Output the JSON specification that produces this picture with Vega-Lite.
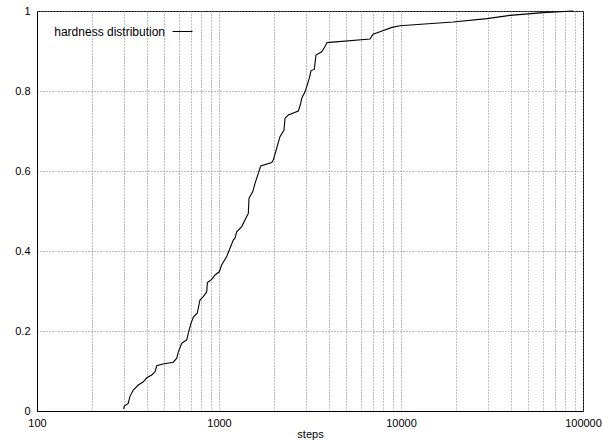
{
  "$schema": "https://vega.github.io/schema/vega-lite/v6.json",
  "width": 546,
  "height": 400,
  "autosize": {"type": "none"},
  "padding": {"left": 37, "top": 11, "right": 19, "bottom": 30},
  "config": {
    "font": "Liberation Sans",
    "view": {"stroke": "black", "strokeWidth": 1},
    "axis": {
      "labelFont": "Liberation Sans",
      "titleFont": "Liberation Sans",
      "labelFontSize": 11,
      "titleFontSize": 11,
      "titleFontWeight": "normal",
      "labelColor": "black",
      "titleColor": "black",
      "domainColor": "black",
      "tickColor": "black",
      "gridColor": "#808080",
      "gridDash": [1, 2],
      "gridOpacity": 1,
      "gridWidth": 1
    }
  },
  "data": {
    "values": [
      {"steps": 299, "p": 0.005, "series": "hardness distribution"},
      {"steps": 302, "p": 0.0125, "series": "hardness distribution"},
      {"steps": 317, "p": 0.019, "series": "hardness distribution"},
      {"steps": 324, "p": 0.036, "series": "hardness distribution"},
      {"steps": 338, "p": 0.0525, "series": "hardness distribution"},
      {"steps": 360, "p": 0.065, "series": "hardness distribution"},
      {"steps": 384, "p": 0.073, "series": "hardness distribution"},
      {"steps": 401, "p": 0.083, "series": "hardness distribution"},
      {"steps": 427, "p": 0.09, "series": "hardness distribution"},
      {"steps": 445, "p": 0.098, "series": "hardness distribution"},
      {"steps": 455, "p": 0.113, "series": "hardness distribution"},
      {"steps": 484, "p": 0.117, "series": "hardness distribution"},
      {"steps": 561, "p": 0.122, "series": "hardness distribution"},
      {"steps": 586, "p": 0.132, "series": "hardness distribution"},
      {"steps": 598, "p": 0.148, "series": "hardness distribution"},
      {"steps": 624, "p": 0.169, "series": "hardness distribution"},
      {"steps": 665, "p": 0.178, "series": "hardness distribution"},
      {"steps": 678, "p": 0.194, "series": "hardness distribution"},
      {"steps": 700, "p": 0.218, "series": "hardness distribution"},
      {"steps": 723, "p": 0.235, "series": "hardness distribution"},
      {"steps": 760, "p": 0.245, "series": "hardness distribution"},
      {"steps": 786, "p": 0.2775, "series": "hardness distribution"},
      {"steps": 820, "p": 0.286, "series": "hardness distribution"},
      {"steps": 856, "p": 0.298, "series": "hardness distribution"},
      {"steps": 863, "p": 0.321, "series": "hardness distribution"},
      {"steps": 912, "p": 0.329, "series": "hardness distribution"},
      {"steps": 951, "p": 0.34, "series": "hardness distribution"},
      {"steps": 1004, "p": 0.348, "series": "hardness distribution"},
      {"steps": 1034, "p": 0.365, "series": "hardness distribution"},
      {"steps": 1102, "p": 0.386, "series": "hardness distribution"},
      {"steps": 1139, "p": 0.4025, "series": "hardness distribution"},
      {"steps": 1198, "p": 0.4275, "series": "hardness distribution"},
      {"steps": 1224, "p": 0.432, "series": "hardness distribution"},
      {"steps": 1251, "p": 0.448, "series": "hardness distribution"},
      {"steps": 1333, "p": 0.461, "series": "hardness distribution"},
      {"steps": 1420, "p": 0.486, "series": "hardness distribution"},
      {"steps": 1449, "p": 0.494, "series": "hardness distribution"},
      {"steps": 1462, "p": 0.532, "series": "hardness distribution"},
      {"steps": 1532, "p": 0.548, "series": "hardness distribution"},
      {"steps": 1577, "p": 0.569, "series": "hardness distribution"},
      {"steps": 1644, "p": 0.594, "series": "hardness distribution"},
      {"steps": 1695, "p": 0.6125, "series": "hardness distribution"},
      {"steps": 1949, "p": 0.621, "series": "hardness distribution"},
      {"steps": 1988, "p": 0.6275, "series": "hardness distribution"},
      {"steps": 2163, "p": 0.686, "series": "hardness distribution"},
      {"steps": 2276, "p": 0.7025, "series": "hardness distribution"},
      {"steps": 2305, "p": 0.732, "series": "hardness distribution"},
      {"steps": 2403, "p": 0.74, "series": "hardness distribution"},
      {"steps": 2728, "p": 0.75, "series": "hardness distribution"},
      {"steps": 2812, "p": 0.769, "series": "hardness distribution"},
      {"steps": 2848, "p": 0.782, "series": "hardness distribution"},
      {"steps": 2969, "p": 0.798, "series": "hardness distribution"},
      {"steps": 3034, "p": 0.811, "series": "hardness distribution"},
      {"steps": 3135, "p": 0.832, "series": "hardness distribution"},
      {"steps": 3203, "p": 0.851, "series": "hardness distribution"},
      {"steps": 3339, "p": 0.854, "series": "hardness distribution"},
      {"steps": 3412, "p": 0.89, "series": "hardness distribution"},
      {"steps": 3667, "p": 0.898, "series": "hardness distribution"},
      {"steps": 3823, "p": 0.911, "series": "hardness distribution"},
      {"steps": 3922, "p": 0.921, "series": "hardness distribution"},
      {"steps": 6756, "p": 0.93, "series": "hardness distribution"},
      {"steps": 7017, "p": 0.942, "series": "hardness distribution"},
      {"steps": 7666, "p": 0.948, "series": "hardness distribution"},
      {"steps": 8922, "p": 0.959, "series": "hardness distribution"},
      {"steps": 9874, "p": 0.963, "series": "hardness distribution"},
      {"steps": 19310, "p": 0.9725, "series": "hardness distribution"},
      {"steps": 29690, "p": 0.981, "series": "hardness distribution"},
      {"steps": 39710, "p": 0.989, "series": "hardness distribution"},
      {"steps": 60290, "p": 0.996, "series": "hardness distribution"},
      {"steps": 88100, "p": 1.0, "series": "hardness distribution"}
    ]
  },
  "mark": {"type": "line", "strokeWidth": 1.1, "interpolate": "linear"},
  "encoding": {
    "x": {
      "field": "steps",
      "type": "quantitative",
      "scale": {"type": "log", "domain": [100, 100000], "nice": false},
      "axis": {
        "title": "steps",
        "values": [100, 200, 300, 400, 500, 600, 700, 800, 900, 1000, 2000, 3000, 4000, 5000, 6000, 7000, 8000, 9000, 10000, 20000, 30000, 40000, 50000, 60000, 70000, 80000, 90000, 100000],
        "labelExpr": "(datum.value == 100 || datum.value == 1000 || datum.value == 10000 || datum.value == 100000) ? format(datum.value, 'd') : ''",
        "ticks": false,
        "labelPadding": 6,
        "titlePadding": 0,
        "labelFlush": false,
        "labelOverlap": false,
        "grid": true
      }
    },
    "y": {
      "field": "p",
      "type": "quantitative",
      "scale": {"domain": [0, 1], "nice": false},
      "axis": {
        "title": null,
        "values": [0, 0.2, 0.4, 0.6, 0.8, 1],
        "format": "~g",
        "ticks": false,
        "labelPadding": 7,
        "labelFlush": false,
        "grid": true
      }
    },
    "color": {
      "field": "series",
      "type": "nominal",
      "scale": {"range": ["black"]},
      "legend": {
        "title": null,
        "orient": "none",
        "legendX": 135,
        "legendY": 10,
        "symbolType": "stroke",
        "symbolSize": 400,
        "symbolStrokeWidth": 1,
        "labelAlign": "right",
        "labelOffset": -28,
        "labelFontSize": 12,
        "labelFont": "Liberation Sans",
        "labelColor": "black"
      }
    }
  }
}
